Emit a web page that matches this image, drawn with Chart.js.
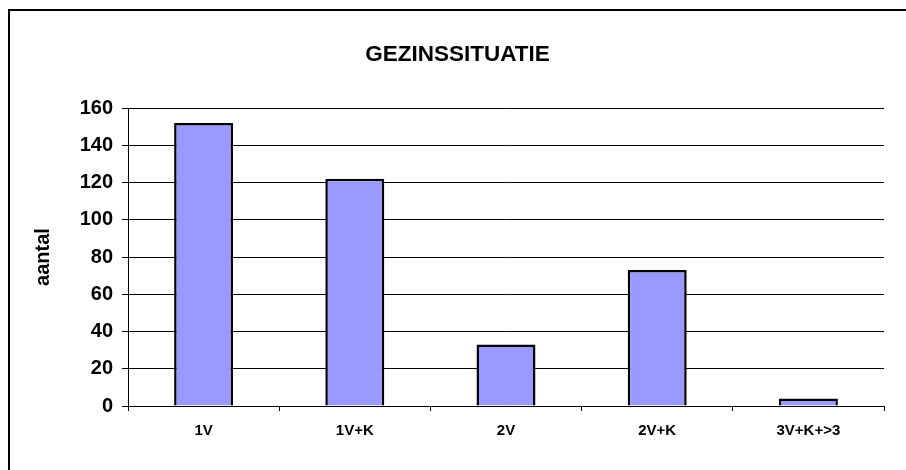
<!DOCTYPE html>
<html>
<head>
<meta charset="utf-8">
<script src="https://cdn.jsdelivr.net/npm/chart.js@4/dist/chart.umd.min.js"></script>
<style>
    html, body { margin: 0; padding: 0; background: #fff; }
    #wrap { width: 906px; height: 470px; }
</style>
</head>
<body>
<div id="wrap"><canvas id="gezinChart" width="906" height="470"></canvas></div>
<script>
// Chart data
const categories = ['1V', '1V+K', '2V', '2V+K', '3V+K+>3'];
const counts = [152, 122, 33, 73, 4];
const yTicks = [0, 20, 40, 60, 80, 100, 120, 140, 160];

const fontFamily = 'Liberation Sans, Arial, sans-serif';

// Frame lines along top and left edge (like the cropped Excel chart)
const framePlugin = {
    id: 'frame',
    afterDraw(chart) {
        const ctx = chart.ctx;
        ctx.save();
        ctx.strokeStyle = '#000';
        ctx.lineWidth = 2;
        ctx.beginPath();
        ctx.moveTo(9, 470);
        ctx.lineTo(9, 10);
        ctx.lineTo(906, 10);
        ctx.stroke();
        ctx.restore();
    }
};

const ctx = document.getElementById('gezinChart');
new Chart(ctx, {
    type: 'bar',
    data: {
        labels: categories,
        datasets: [{
            label: 'aantal',
            data: counts,
            backgroundColor: '#9999ff',
            borderColor: '#000000',
            borderWidth: 2.5,
            categoryPercentage: 1.0,
            barPercentage: 0.39
        }]
    },
    options: {
        responsive: false,
        animation: false,
        layout: {
            padding: { left: 31, right: 22, top: 10, bottom: 24 }
        },
        plugins: {
            legend: { display: false },
            tooltip: { enabled: false },
            title: {
                display: true,
                text: 'GEZINSSITUATIE',
                color: '#000',
                font: { family: fontFamily, size: 22.5, weight: 'bold' },
                padding: { top: 31, bottom: 40 }
            }
        },
        scales: {
            x: {
                offset: true,
                grid: {
                    offset: true,
                    drawOnChartArea: false,
                    drawTicks: true,
                    tickLength: 5,
                    color: '#000'
                },
                border: { display: true, color: '#000', width: 1 },
                ticks: {
                    color: '#000',
                    padding: 11,
                    maxRotation: 0,
                    font: { family: fontFamily, size: 15, weight: 'bold' }
                },
                afterFit(scale) { scale.height = 40; }
            },
            y: {
                min: 0,
                max: 160,
                afterBuildTicks(scale) {
                    scale.ticks = yTicks.map(v => ({ value: v }));
                },
                grid: {
                    color: '#000',
                    lineWidth: 1,
                    drawTicks: true,
                    tickLength: 6
                },
                border: { display: true, color: '#000', width: 1 },
                ticks: {
                    color: '#000',
                    padding: 9,
                    font: { family: fontFamily, size: 20, weight: 'bold' }
                },
                title: {
                    display: true,
                    text: 'aantal',
                    color: '#000',
                    padding: { top: 0, bottom: 0 },
                    font: { family: fontFamily, size: 20, weight: 'bold' }
                },
                afterFit(scale) { scale.width = 97; }
            }
        }
    },
    plugins: [framePlugin]
});
</script>
</body>
</html>
